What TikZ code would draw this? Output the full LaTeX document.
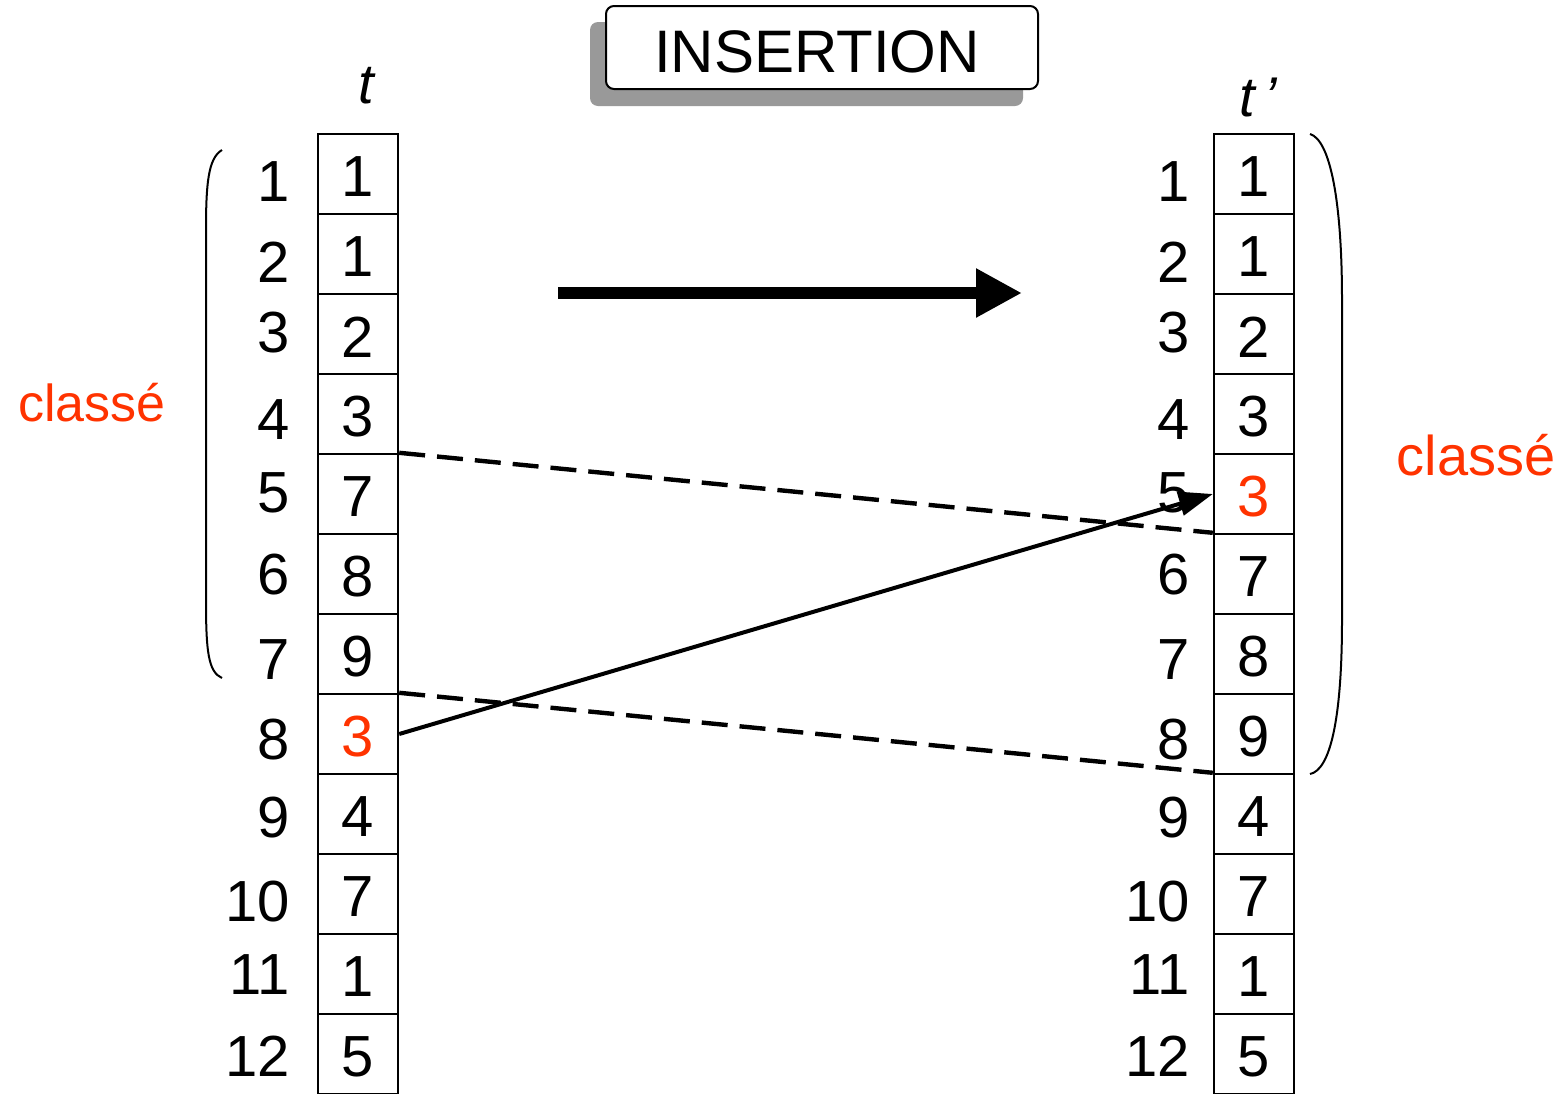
\documentclass[tikz,border=0pt]{standalone}
\usepackage{fontspec}
\setmainfont{Liberation Sans}
\usetikzlibrary{arrows.meta}
\definecolor{myred}{HTML}{FF3300}
\definecolor{shadowgray}{HTML}{999999}
\tikzset{
  cell/.style={draw, line width=1.2pt, minimum width=40pt, minimum height=40pt, inner sep=0pt},
  celltext/.style={inner sep=0pt, font=\fontsize{29}{30}\selectfont},
  idx/.style={anchor=east, inner sep=0pt, font=\fontsize{29}{30}\selectfont},
  redlab/.style={text=myred, inner sep=0pt},
  dashline/.style={line width=2.2pt, dash pattern=on 13pt off 6pt},
  brace/.style={line width=1pt},
}
\begin{document}
\begin{tikzpicture}[x=0.5pt,y=-0.5pt]
\useasboundingbox (0,0) rectangle (1564,1093);
\clip (0,0) rectangle (1564,1093);
% title
\fill[shadowgray, rounded corners=4pt] (590,22) rectangle (1023,106);
\node[draw, fill=white, line width=1pt, rounded corners=4pt, minimum width=216pt, minimum height=41.5pt, inner sep=0pt] (title) at (822,47.5) {};
\node[inner sep=0pt, font=\fontsize{30}{32}\selectfont] (titletext) at (817,52) {INSERTION};
% column labels
\node[font=\fontsize{28}{30}\selectfont\itshape] (tl) at (366,86) {t};
\node[font=\fontsize{28}{30}\selectfont\itshape] (tr) at (1258,98) {t\,’};
% cells
\foreach \v [count=\i] in {1,1,2,3,7,8,9,{\textcolor{myred}{3}},4,7,1,5} {
  \node[cell] (L\i) at (358,{94+80*\i}) {};
  \node[celltext] (Lt\i) at (358,{97+80*\i}) {\v};
}
\foreach \v [count=\i] in {1,1,2,3,{\textcolor{myred}{3}},7,8,9,4,7,1,5} {
  \node[cell] (R\i) at (1254,{94+80*\i}) {};
  \node[celltext] (Rt\i) at (1254,{97+80*\i}) {\v};
}
% indices
\foreach \i/\y in {1/182,2/262,3/333,4/420,5/493,6/575,7/660,8/740,9/818,10/902,11/975,12/1056} {
  \node[idx] (li\i) at (290,\y) {\i};
  \node[idx] (ri\i) at (1190,\y) {\i};
}
% brackets
\draw[brace] (222,150) .. controls (208,158) and (206,185) .. (206,230) -- (206,600) .. controls (206,650) and (208,672) .. (222,678);
\draw[brace] (1310,134) .. controls (1330,140) and (1342,200) .. (1342,300) -- (1342,620) .. controls (1342,720) and (1330,770) .. (1310,774);
% classe labels
\node[redlab, font=\fontsize{26}{28}\selectfont] (cl) at (92,403) {classé};
\node[redlab, font=\fontsize{28}{30}\selectfont] (cr) at (1476,455) {classé};
% big arrow
\coordinate (a1) at (558,293);
\coordinate (a2) at (1022,293);
\draw[line width=6pt, -{Triangle[length=23pt,width=23pt]}] (a1) -- (a2);
% dashed
\draw[dashline] (L5.north east) -- (R6.north west);
\draw[dashline] (L8.north east) -- (R9.north west);
% solid arrow
\draw[line width=2pt, -{Triangle[length=17pt,width=12pt]}] (L8.east) -- (R5.west);
\end{tikzpicture}
\end{document}
